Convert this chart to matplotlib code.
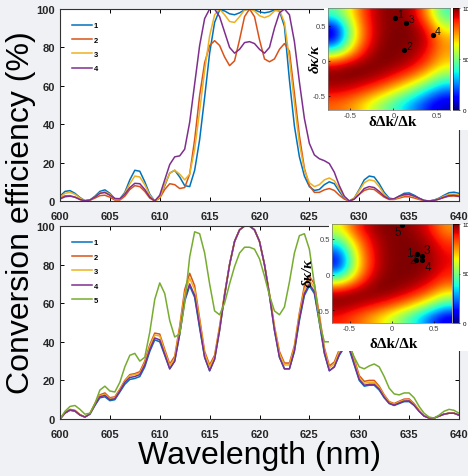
import numpy as np
import matplotlib.pyplot as plt
from matplotlib.patches import Rectangle

plt.rcParams['font.family'] = ['Liberation Sans', 'DejaVu Sans']

# wavelength samples (nm), every 0.5 nm from 600 to 640
wl = np.arange(600, 640.25, 0.5)

# ---- upper panel, conversion efficiency (%) ----
top_1 = [2.5, 5, 5.4, 4, 1.8, 0.2, 0.5, 2.5, 5, 5.8,
         4, 1.2, 1, 4.5, 11, 16, 15.5, 10, 3.5, 0,
         2, 8, 14.5, 16, 12.5, 8, 7.5, 16, 32, 54,
         77, 93, 99.5, 99, 97.5, 97, 98, 99.5, 100, 99.5,
         98.5, 98, 98.5, 99.5, 99, 91, 63, 39, 23, 13,
         7.5, 5.5, 6, 8.5, 10, 9, 5, 1.5, 0, 1.5,
         6, 11, 13, 12.5, 9, 4.5, 1.5, 1, 2.5, 4,
         4.2, 3, 1.5, 0.3, 0, 0.5, 1.5, 3, 4.3, 4.6,
         4]
top_2 = [1.5, 2.7, 2.8, 2, 0.8, 0.1, 0.4, 1.5, 2.8, 3,
         2, 0.5, 0.5, 2.5, 6, 8, 7.5, 5, 1.5, 0,
         1.5, 6, 9, 8.5, 6.5, 7, 14, 32, 55, 72,
         81, 83.5, 81, 75, 70.5, 73, 84, 96, 100, 96,
         84, 74, 72.5, 74, 79, 82, 78, 56, 34, 17,
         8, 4.5, 4.5, 5.8, 6.5, 5.5, 3, 1, 0, 1,
         3.5, 5.5, 6.3, 6, 4, 2, 0.8, 0.8, 1.5, 2.2,
         2.2, 1.6, 0.8, 0.2, 0, 0.3, 1, 1.8, 2.5, 2.6,
         2.3]
top_3 = [2, 4, 4.5, 3.5, 1.5, 0.2, 0.5, 2, 4.3, 4.9,
         3.5, 1, 1, 4, 9, 13, 12.5, 8.5, 3, 0,
         2, 8.5, 14.5, 16, 14, 11, 14, 27, 47, 68,
         86, 97, 100, 97, 93.5, 93, 96, 99.5, 100, 99,
         96.5, 95.5, 96.5, 99, 99.5, 93, 74, 51, 30, 16,
         9.5, 7.5, 8.5, 11, 12, 10.5, 6.5, 2, 0, 1.5,
         5.5, 9.5, 11, 10.5, 7.5, 3.5, 1, 1, 2, 3,
         3.2, 2.4, 1.2, 0.3, 0, 0.4, 1.2, 2.5, 3.4, 3.6,
         3.2]
top_4 = [1, 2.2, 2.5, 2, 0.8, 0.1, 0.5, 2, 4, 4.4,
         3, 1.3, 1.2, 3.5, 7, 9.2, 9, 6, 2, 0,
         3, 11, 19, 23, 23.5, 27, 41, 61, 81, 95,
         100, 100, 96, 88, 80, 77, 79, 82.5, 83, 82,
         79, 77, 80, 90, 98, 100, 97, 83, 62, 43,
         30, 24, 22, 21, 19.5, 15, 8, 2.5, 0, 1,
         3.5, 6.5, 7.5, 7, 5, 2.5, 1, 1.2, 2.5, 3.3,
         3.4, 2.6, 1.4, 0.3, 0, 0.3, 1, 2, 2.8, 3,
         2.5]

# ---- lower panel ----
bot_1 = [0, 3, 4.5, 4, 2, 1, 2.5, 7, 11, 11.5,
         9.5, 10, 14, 18, 20.5, 21, 22, 27, 35, 41,
         40, 33, 26, 30, 44, 61, 69, 63, 47, 32,
         25, 31, 46, 64, 80, 92, 98, 100, 100, 98,
         92, 80, 64, 46, 32, 26, 26, 35, 51, 64,
         69, 65, 50, 34, 25, 27, 33, 37, 36, 28,
         20, 17, 17.5, 17.5, 15, 11, 8, 7, 8, 9,
         9, 7, 4, 1.5, 0.5, 0.5, 1.5, 2.5, 3, 3,
         2]
bot_2 = [0, 3.3, 5, 4.5, 2.3, 1.1, 2.8, 8, 12.5, 13.5,
         11, 11.5, 15.5, 20, 23, 23.5, 24.5, 30, 38.5, 44.5,
         44, 36, 28.5, 32.5, 48, 67, 75.5, 69, 52, 35,
         28, 33, 48, 65, 80, 92, 98, 100, 100, 98,
         92, 80, 65, 48, 35, 29, 29, 38, 55, 69,
         74, 70, 54, 37, 27.5, 29.5, 36, 40.5, 39.5, 31,
         22.5, 19.5, 20, 20, 17, 12.5, 9, 8, 9.2, 10.3,
         10.4, 8, 4.5, 1.7, 0.6, 0.5, 1.5, 2.5, 3, 3,
         2]
bot_3 = [0, 3.2, 4.8, 4.3, 2.2, 1, 2.7, 7.6, 12, 12.8,
         10.5, 11, 15, 19.5, 22.5, 23, 23.8, 29, 37.5, 43.5,
         43, 35, 27.5, 31.5, 46.5, 65, 73, 67, 50.5, 34,
         27, 32, 47.5, 64.5, 80, 92, 98, 100, 100, 98,
         92, 80, 64.5, 47.5, 34, 28, 28, 37, 54, 67,
         72, 68, 52.5, 36, 26.5, 28.5, 35, 39.5, 38.5, 30,
         21.5, 18.5, 19, 19, 16.3, 12, 8.7, 7.6, 8.8, 9.8,
         9.9, 7.6, 4.3, 1.6, 0.5, 0.5, 1.5, 2.5, 3, 3,
         2]
bot_4 = [0, 3.1, 4.7, 4.2, 2.1, 1, 2.6, 7.3, 11.5, 12.2,
         10, 10.5, 14.5, 19, 21.5, 22, 23, 28, 36, 42,
         41, 33.5, 26, 30, 44, 62, 70, 64, 48, 32,
         25, 31, 46, 64, 80, 92, 98, 100, 100, 98,
         92, 80, 64, 46, 32, 26, 26, 35.5, 52, 65,
         70, 66, 51, 34.5, 25, 27, 33.5, 38, 37, 28.5,
         20.5, 17.5, 18, 18, 15.5, 11.3, 8.2, 7.2, 8.3, 9.3,
         9.4, 7.2, 4, 1.5, 0.5, 0.5, 1.5, 2.5, 3, 3,
         2]
bot_5 = [0, 4, 6.5, 7, 5, 2.5, 3, 8, 15, 17,
         14.5, 14, 19, 27, 33, 34, 30, 32, 45, 62,
         70.5, 65, 51, 42.5, 44, 60, 84, 97, 96, 86,
         70, 56, 54, 60, 70, 79, 86, 89, 89, 88,
         83, 74, 64, 56, 54, 58, 71, 86, 95, 96,
         88, 70, 50, 40, 40, 43, 44, 42, 38, 32,
         27, 26, 27.5, 28.5, 27, 22, 16, 13, 12.5, 13.5,
         13.5, 11, 6.5, 3, 1, 0.5, 2, 4, 5, 4.5,
         3]

# inset maps (efficiency %, rows from top to bottom)
map_top = [[45, 65, 88, 98, 100, 96, 75, 42],
           [8, 55, 85, 98, 100, 100, 88, 60],
           [8, 55, 85, 99, 100, 100, 94, 74],
           [50, 72, 93, 100, 100, 98, 90, 74],
           [94, 99, 100, 100, 98, 93, 82, 66],
           [100, 100, 98, 94, 86, 76, 62, 46],
           [93, 90, 84, 75, 63, 50, 35, 22],
           [80, 75, 65, 52, 40, 28, 15, 6]]
map_bot = [[62, 84, 95, 100, 100, 97, 90, 75],
           [40, 70, 90, 98, 100, 100, 96, 85],
           [15, 60, 87, 98, 100, 100, 98, 90],
           [12, 58, 86, 98, 100, 100, 98, 90],
           [50, 72, 93, 100, 100, 99, 94, 85],
           [94, 99, 100, 100, 97, 91, 82, 68],
           [100, 97, 93, 88, 80, 70, 56, 40],
           [88, 82, 74, 64, 52, 38, 22, 8]]

pts_top_x = [0.02, 0.125, 0.15, 0.45]
pts_top_y = [0.61, 0.16, 0.54, 0.37]
pts_top_lab = ['1', '2', '3', '4']
pts_bot_x = [0.29, 0.30, 0.36, 0.36, 0.12]
pts_bot_y = [0.20, 0.29, 0.26, 0.20, 0.69]
pts_bot_lab = ['1', '2', '3', '4', '5']

colors = ['#0072BD', '#D95319', '#EDB120', '#7E2F8E', '#77AC30']

W, H = 468, 477
def box(x0, y0, x1, y1):
    # pixel box (top-left origin) -> figure fraction
    return [x0 / W, 1 - y1 / H, (x1 - x0) / W, (y1 - y0) / H]

fig = plt.figure(figsize=(W / 100, H / 100), dpi=100)
fig.patch.set_facecolor('#eff1f5')

ax1 = fig.add_axes(box(60, 10, 459, 202))
ax2 = fig.add_axes(box(60, 227, 459, 420))

for ax, series in [(ax1, [top_1, top_2, top_3, top_4]),
                   (ax2, [bot_1, bot_2, bot_3, bot_4, bot_5])]:
    ax.set_zorder(1)
    for i, s in enumerate(series):
        ax.plot(wl, s, color=colors[i], lw=1.1, label=str(i + 1))
    ax.set_xlim(600, 640)
    ax.set_ylim(0, 100)
    ax.set_xticks(range(600, 641, 5))
    ax.set_yticks(range(0, 101, 20))
    ax.tick_params(direction='in', top=True, right=True, length=3,
                   width=0.7, labelsize=8, labelcolor='#262626')
    ax.tick_params(axis='x', pad=7)
    for lab in ax.get_xticklabels() + ax.get_yticklabels():
        lab.set_fontweight('bold')
    for sp in ax.spines.values():
        sp.set_linewidth(0.8)
        sp.set_color('#333333')
    ax.legend(loc='upper left', bbox_to_anchor=(0.012, 0.968), frameon=False,
              handlelength=2.6, handletextpad=0.25, labelspacing=0.92,
              prop={'size': 5.5, 'weight': 'bold'})

fig.text(0.045, 1 - 213 / H, 'Conversion efficiency (%)', rotation=90,
         ha='center', va='center', fontsize=23)
fig.text(259 / W, 1 - 456 / H, 'Wavelength (nm)', ha='center', va='center',
         fontsize=23)

# white backing behind the inset pictures
fig.patches.append(Rectangle((324 / W, 1 - 131 / H), 1, (131 - 9) / H,
                             transform=fig.transFigure, facecolor='white',
                             edgecolor='none', zorder=2))
fig.patches.append(Rectangle((329 / W, 1 - 352 / H), 1, (352 - 225) / H,
                             transform=fig.transFigure, facecolor='white',
                             edgecolor='none', zorder=2))


def inset(img_box, cb_box, grid, xlim, ylim, px, py, labs, offs, fsz,
          xlab_pos, ylab_pos):
    axi = fig.add_axes(img_box)
    axi.set_zorder(3)
    im = axi.imshow(grid, cmap='jet', vmin=0, vmax=100, aspect='auto',
                    interpolation='bicubic',
                    extent=[xlim[0], xlim[1], ylim[0], ylim[1]])
    axi.plot(px, py, 'o', color='black', ms=2.8)
    for x, y, t, o in zip(px, py, labs, offs):
        axi.annotate(t, (x, y), xytext=o, textcoords='offset points',
                     ha='center', va='center', fontsize=fsz, color='#111111')
    axi.set_xlim(xlim)
    axi.set_ylim(ylim)
    axi.set_xticks([-0.5, 0, 0.5])
    axi.set_yticks([-0.5, 0, 0.5])
    axi.set_xticklabels(['-0.5', '0', '0.5'])
    axi.set_yticklabels(['-0.5', '0', '0.5'])
    axi.tick_params(labelsize=5.5, labelcolor='#444444', length=1.5,
                    width=0.5, direction='in', pad=1.5)
    for sp in axi.spines.values():
        sp.set_linewidth(0.5)
        sp.set_color('#777777')
    axi.set_xlabel('δΔk/Δk', family='Liberation Serif', fontweight='bold',
                   fontsize=11)
    axi.xaxis.set_label_coords(*xlab_pos)
    axi.set_ylabel('δκ/κ', family='Liberation Serif', fontweight='bold',
                   style='italic', fontsize=11)
    axi.yaxis.set_label_coords(*ylab_pos)
    cax = fig.add_axes(cb_box)
    cax.set_zorder(3)
    cb = fig.colorbar(im, cax=cax, ticks=[0, 50, 100])
    cb.outline.set_linewidth(0.4)
    cax.tick_params(labelsize=4.5, length=1, width=0.4, pad=1.5)


inset(box(328, 9, 450, 111), box(453, 9, 459, 111), map_top,
      (-0.75, 0.65), (-0.7, 0.75), pts_top_x, pts_top_y, pts_top_lab,
      [(3.5, 2.5)] * 4, 7.5, (0.53, -0.05), (-0.05, 0.51))
inset(box(332, 225, 452, 324), box(453, 225, 459, 324), map_bot,
      (-0.71, 0.72), (-0.68, 0.71), pts_bot_x, pts_bot_y, pts_bot_lab,
      [(-4.5, 5), (-3, -4.5), (3.5, 4.5), (4.5, -4.5), (-2.5, -5)], 8.5,
      (0.51, -0.14), (-0.14, 0.515))

fig.savefig('out.png', dpi=100, facecolor=fig.get_facecolor())
